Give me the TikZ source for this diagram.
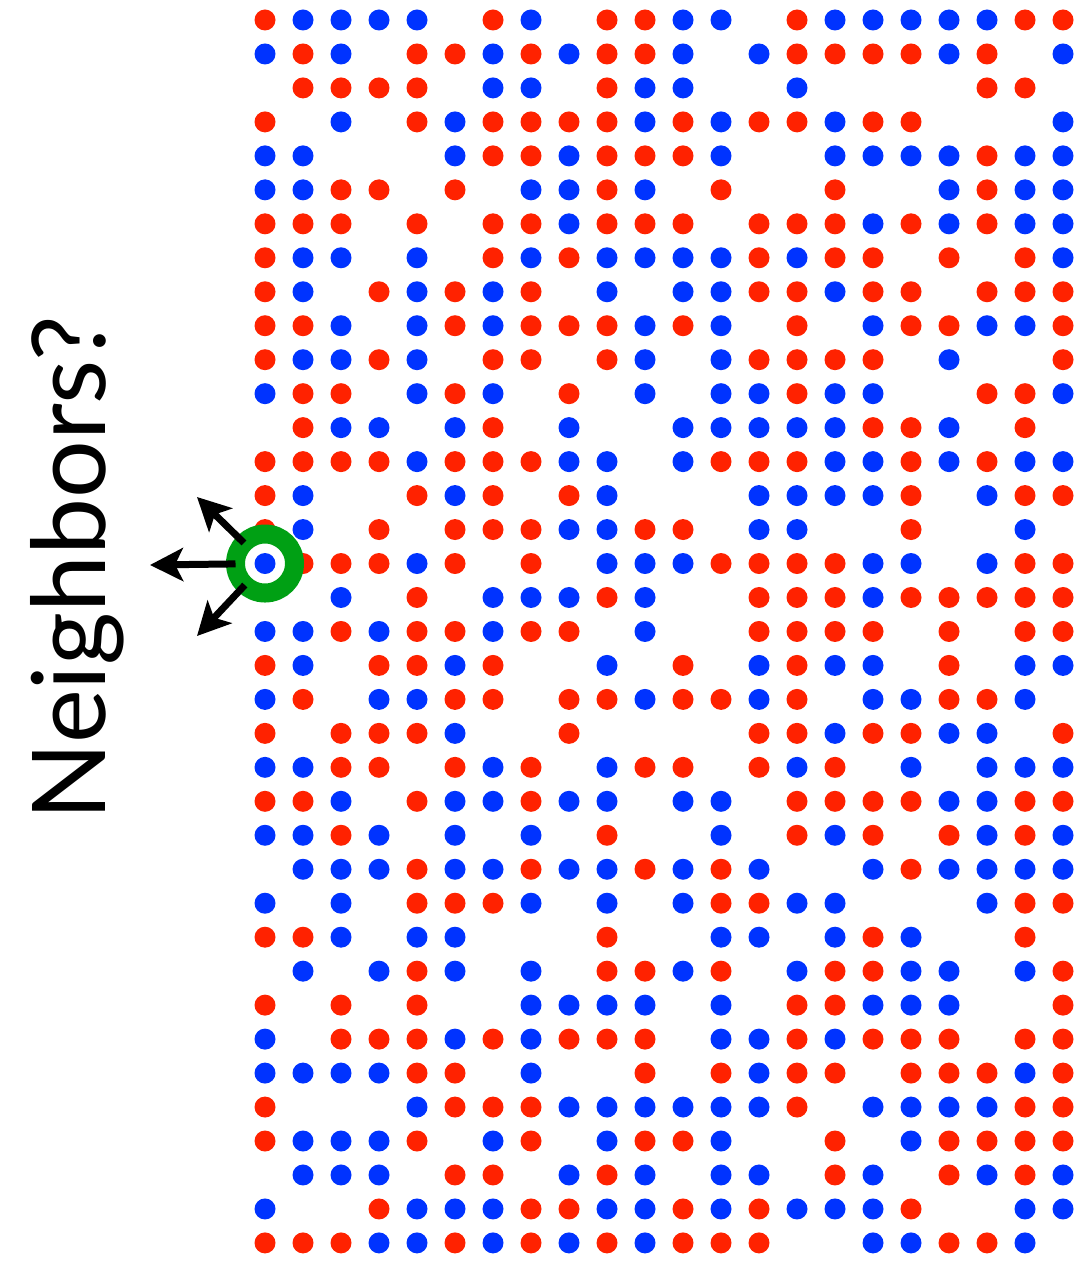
\documentclass[tikz,border=0pt]{standalone}
\usepackage{fontspec}
\setmainfont{Lato}
\usetikzlibrary{arrows.meta}

\definecolor{spinred}{RGB}{255,34,0}
\definecolor{spinblue}{RGB}{0,51,255}
\definecolor{probegreen}{RGB}{0,160,20}

\begin{document}
\begin{tikzpicture}[x=0.02cm, y=-0.02cm,
    site/.style={circle, inner sep=0pt, minimum size=0.42cm},
    site1/.style={fill=spinred},
    site2/.style={fill=spinblue},
    probe/.style={circle, draw=probegreen, line width=0.38cm, minimum size=1.18cm, inner sep=0pt, outer sep=0pt},
    arr/.style={-{Stealth[length=0.66cm, width=0.66cm, inset=0.16cm]}, line width=0.14cm},
  ]
  \useasboundingbox (0,0) rectangle (1082,1263);
  % lattice, one row per line: 0 empty, 1 red, 2 blue
  \foreach \sites [count=\j from 0] in {%
    {1,2,2,2,2,0,1,2,0,1,1,2,2,0,1,2,2,2,2,2,1,1},%
    {2,1,2,0,1,1,2,1,2,1,1,2,0,2,1,1,1,1,2,1,0,2},%
    {0,1,1,1,1,0,2,2,0,1,2,2,0,0,2,0,0,0,0,1,1,0},%
    {1,0,2,0,1,2,1,1,1,1,2,1,2,1,1,2,1,1,0,0,0,2},%
    {2,2,0,0,0,2,1,1,2,1,1,1,2,0,0,2,2,2,2,1,2,2},%
    {2,2,1,1,0,1,0,2,2,1,2,0,1,0,0,1,0,0,2,1,2,2},%
    {1,1,1,0,1,0,1,1,2,1,1,1,0,1,1,1,2,1,2,1,2,2},%
    {1,2,2,0,2,0,1,2,1,2,2,2,2,1,2,1,1,0,1,0,1,2},%
    {1,2,0,1,2,1,2,1,0,2,0,2,2,1,1,2,1,1,0,1,1,1},%
    {1,1,2,0,2,1,2,1,1,1,2,1,2,0,1,0,2,1,1,2,2,1},%
    {1,2,2,1,2,0,1,1,0,1,2,0,2,1,1,1,1,0,2,0,0,1},%
    {2,1,1,0,2,1,2,0,1,0,2,0,2,2,1,2,2,0,0,1,1,2},%
    {0,1,2,2,0,2,1,0,2,0,0,2,2,2,2,2,1,1,2,0,1,0},%
    {1,1,1,1,2,1,1,1,2,2,0,2,1,1,1,2,2,1,2,1,2,2},%
    {1,2,0,0,1,2,1,0,1,2,0,0,0,2,2,2,2,1,0,2,1,1},%
    {1,2,0,1,0,1,1,1,2,2,1,1,0,2,2,0,0,1,0,0,2,0},%
    {2,1,1,1,2,1,0,1,0,2,2,2,1,1,1,1,2,2,0,2,1,1},%
    {0,0,2,0,1,0,2,2,2,1,2,0,0,1,1,1,2,1,1,1,1,1},%
    {2,2,1,2,1,1,2,1,1,0,2,0,0,1,1,1,1,0,1,0,1,1},%
    {1,2,0,1,1,2,1,0,0,2,0,1,0,2,1,2,2,0,1,0,2,2},%
    {2,1,0,2,2,1,1,0,1,1,2,1,1,2,1,0,2,2,1,1,2,0},%
    {1,0,1,1,1,2,0,0,1,0,0,0,0,1,1,2,1,1,2,2,0,1},%
    {2,2,1,1,0,1,2,1,0,2,1,1,0,1,2,1,0,2,0,2,2,2},%
    {1,1,2,0,1,2,2,1,2,2,0,2,2,0,1,1,1,1,2,2,1,1},%
    {2,2,1,2,0,2,0,2,0,1,0,0,2,0,1,2,1,0,1,2,1,2},%
    {0,2,2,2,1,2,2,1,2,2,1,2,1,2,0,0,2,1,2,2,2,2},%
    {2,0,2,0,1,1,1,2,0,2,0,2,1,1,2,2,0,0,0,2,1,1},%
    {1,1,2,0,2,2,0,0,0,1,0,0,2,2,0,2,1,2,0,0,1,0},%
    {0,2,0,2,1,2,0,2,0,1,1,2,1,0,2,1,1,2,2,0,2,1},%
    {1,0,1,0,1,0,0,2,2,2,2,0,2,0,1,1,2,2,2,0,0,1},%
    {2,0,1,1,1,2,1,2,1,1,1,0,2,2,1,2,1,1,1,0,1,1},%
    {2,2,2,2,1,1,0,2,0,0,1,0,1,2,1,1,0,1,1,1,2,1},%
    {1,0,0,0,2,1,1,1,2,2,2,2,2,2,1,0,2,2,2,2,1,1},%
    {1,2,2,2,1,0,2,1,0,2,1,1,2,0,0,1,0,2,1,1,1,1},%
    {0,2,2,2,0,1,1,0,2,1,2,0,2,2,0,1,2,0,1,2,1,2},%
    {2,0,0,1,2,2,2,1,1,2,2,1,2,1,2,2,2,1,0,0,2,2},%
    {1,1,1,2,2,1,2,1,2,1,2,1,1,1,0,0,2,2,1,1,2,0}}{%
    \foreach \c [count=\i from 0] in \sites {
      \ifnum\c>0
        \node[site, site\c] (s-\j-\i) at ({265+38*\i},{20+33.97*\j}) {};
      \fi
    }
  }
  % probed site and its neighbours
  \node[probe] (probe) at (s-16-0) {};
  \coordinate (nb-l) at (150,565);
  \coordinate (nb-ul) at (197,497);
  \coordinate (nb-dl) at (197,636);
  \draw[arr] (probe) -- (nb-l);
  \draw[arr] (probe) -- (nb-ul);
  \draw[arr] (probe) -- (nb-dl);
  \node[rotate=90, font=\fontsize{58}{60}\selectfont] (label) at (77,568) {Neighbors?};
\end{tikzpicture}
\end{document}
